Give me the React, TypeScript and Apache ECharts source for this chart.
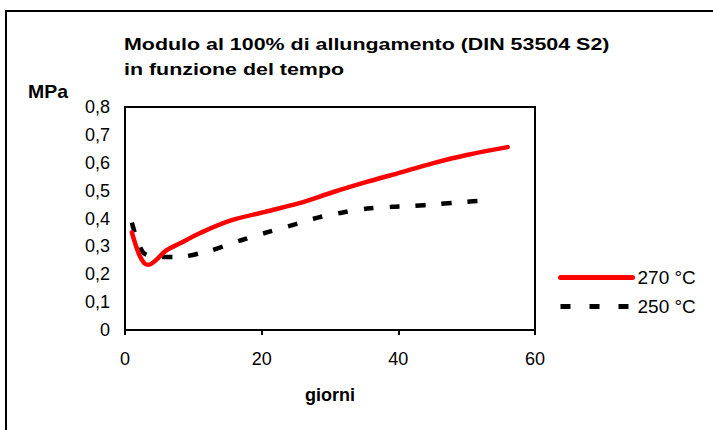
import React, { useEffect, useRef } from "react";
import * as echarts from "echarts";

const titleLine1 = "Modulo al 100% di allungamento (DIN 53504 S2)";
const titleLine2 = "in funzione del tempo";
const yAxisName = "MPa";
const xAxisName = "giorni";
const seriesNames = ["270 °C", "250 °C"];

const days270 = [1, 2, 2.8, 3.4, 4.5, 6, 8, 11, 15.5, 20.5, 25.5, 30.5, 35.5, 40, 45, 50, 56];
const mpa270 = [0.35, 0.275, 0.24, 0.234, 0.25, 0.285, 0.31, 0.348, 0.393, 0.424, 0.455, 0.495, 0.532, 0.563, 0.598, 0.628, 0.656];

const days250 = [1, 2.6, 4.6, 7.6, 12.5, 17, 21, 25, 28.5, 31.5, 35.5, 39, 42, 45.5, 49, 53.5];
const mpa250 = [0.385, 0.28, 0.262, 0.262, 0.285, 0.322, 0.352, 0.38, 0.405, 0.42, 0.436, 0.442, 0.445, 0.451, 0.458, 0.466];

const FONT = "'Liberation Sans', Arial, sans-serif";

export default function App() {
  const ref = useRef<HTMLDivElement>(null);
  useEffect(() => {
    if (!ref.current) return;
    const chart = echarts.init(ref.current, undefined, { renderer: "svg" });
    chart.setOption({
      animation: false,
      backgroundColor: "#ffffff",
      textStyle: { fontFamily: FONT },
      legend: {
        orient: "vertical",
        left: 553,
        top: 263,
        itemWidth: 72,
        itemHeight: 20,
        itemGap: 10,
        textStyle: { fontFamily: FONT, fontSize: 19, color: "#000" },
        data: [
          {
            name: seriesNames[0],
            itemStyle: { opacity: 0 },
            lineStyle: { color: "#ff0000", width: 5, cap: "round", type: "solid" },
          },
          {
            name: seriesNames[1],
            itemStyle: { opacity: 0 },
            lineStyle: { color: "#000", width: 5, cap: "butt", type: [10, 19] },
          },
        ],
      },
      grid: {
        left: 125,
        right: 178,
        top: 107,
        bottom: 100,
        show: true,
        borderColor: "#000",
        borderWidth: 2,
        backgroundColor: "transparent",
      },
      xAxis: {
        type: "value",
        min: 0,
        max: 60,
        interval: 20,
        name: xAxisName,
        nameLocation: "middle",
        nameGap: 56,
        nameTextStyle: { fontFamily: FONT, fontSize: 18, fontWeight: "bold", color: "#000" },
        axisLine: { show: true, lineStyle: { color: "#000", width: 2 } },
        axisTick: { show: true, length: 5, lineStyle: { color: "#000", width: 2 } },
        axisLabel: { fontFamily: FONT, fontSize: 18, color: "#000", margin: 20 },
        splitLine: { show: false },
      },
      yAxis: {
        type: "value",
        min: 0,
        max: 0.8,
        interval: 0.1,
        axisLine: { show: true, lineStyle: { color: "#000", width: 2 } },
        axisTick: { show: false },
        axisLabel: {
          fontFamily: FONT,
          fontSize: 18,
          color: "#000",
          margin: 15,
          formatter: (v: number) => (Math.round(v * 10) / 10).toString().replace(".", ","),
        },
        splitLine: { show: false },
      },
      graphic: [
        {
          type: "rect",
          shape: { x: 6, y: 11, width: 800, height: 600 },
          style: { fill: "none", stroke: "#000", lineWidth: 2 },
          silent: true,
        },
        {
          type: "text",
          x: 124,
          y: 44.5,
          scaleX: 1.26,
          style: {
            text: titleLine1,
            fontFamily: FONT,
            fontSize: 17,
            fontWeight: "bold",
            fill: "#000",
            verticalAlign: "middle",
          },
        },
        {
          type: "text",
          x: 124,
          y: 69,
          scaleX: 1.26,
          style: {
            text: titleLine2,
            fontFamily: FONT,
            fontSize: 17,
            fontWeight: "bold",
            fill: "#000",
            verticalAlign: "middle",
          },
        },
        {
          type: "text",
          x: 28,
          y: 92,
          scaleX: 1.08,
          style: {
            text: yAxisName,
            fontFamily: FONT,
            fontSize: 18,
            fontWeight: "bold",
            fill: "#000",
            verticalAlign: "middle",
          },
        },
      ],
      series: [
        {
          name: seriesNames[0],
          type: "line",
          smooth: 0.35,
          symbol: "none",
          lineStyle: { color: "#ff0000", width: 4.5, cap: "round" },
          itemStyle: { color: "#ff0000" },
          data: days270.map((d, i) => [d, mpa270[i]]),
          z: 3,
        },
        {
          name: seriesNames[1],
          type: "line",
          smooth: 0.3,
          symbol: "none",
          lineStyle: { color: "#000", width: 4.5, type: [10, 16] },
          itemStyle: { color: "#000" },
          data: days250.map((d, i) => [d, mpa250[i]]),
          z: 2,
        },
      ],
    });
    return () => chart.dispose();
  }, []);
  return (
    <div
      ref={ref}
      style={{ position: "absolute", left: 0, top: 0, width: 713, height: 430 }}
    />
  );
}
